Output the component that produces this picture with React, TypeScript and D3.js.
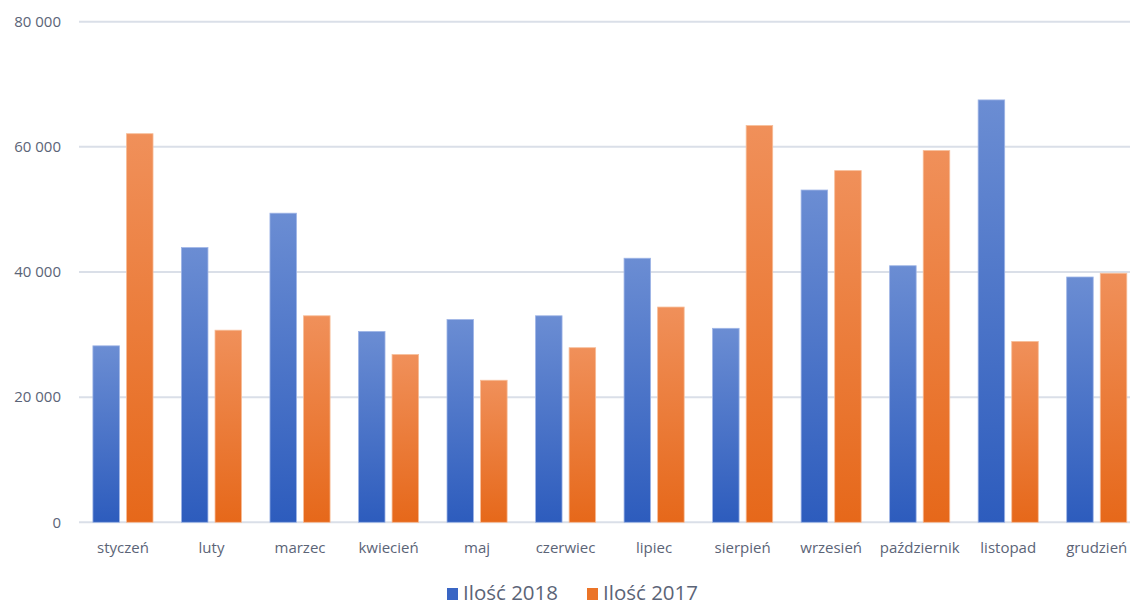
import * as d3 from "d3";
import { useEffect, useRef } from "react";

const months = [
  "styczeń", "luty", "marzec", "kwiecień", "maj", "czerwiec",
  "lipiec", "sierpień", "wrzesień", "październik", "listopad", "grudzień",
];
const values2018 = [28200, 43900, 49400, 30500, 32400, 33000, 42200, 31000, 53100, 41000, 67500, 39200];
const values2017 = [62100, 30700, 33000, 26800, 22700, 27900, 34400, 63400, 56200, 59400, 28900, 39800];
const seriesNames = ["Ilość 2018", "Ilość 2017"];
const yTicks = [0, 20000, 40000, 60000, 80000];

const W = 1130;
const H = 606;
const FONT = "'Open Sans', 'Noto Sans', sans-serif";
const TEXT = "#5b6477";

export default function App() {
  const ref = useRef<SVGSVGElement | null>(null);

  useEffect(() => {
    if (!ref.current) return;
    const svg = d3.select(ref.current);
    svg.selectAll("*").remove();

    const defs = svg.append("defs");
    const grads = [
      { id: "gBlue", top: "#6b8dd3", bottom: "#2d5cbd" },
      { id: "gOrange", top: "#f0905a", bottom: "#e6681a" },
    ];
    grads.forEach((g) => {
      const lg = defs.append("linearGradient")
        .attr("id", g.id)
        .attr("x1", 0).attr("y1", 0).attr("x2", 0).attr("y2", 1);
      lg.append("stop").attr("offset", "0%").attr("stop-color", g.top);
      lg.append("stop").attr("offset", "100%").attr("stop-color", g.bottom);
    });

    // plot runs past the right edge, like the cropped original
    const x = d3.scaleBand().domain(months).range([78.7, 1141]);
    const y = d3.scaleLinear().domain([0, 80000]).range([522.3, 21.7]);
    const inner = d3.scaleBand().domain(["a", "b"]).range([14.2, x.bandwidth() - 14.2]).paddingInner(0.21);

    // gridlines
    svg.append("g")
      .selectAll("line")
      .data(yTicks)
      .join("line")
      .attr("x1", 79)
      .attr("x2", W)
      .attr("y1", (d) => y(d))
      .attr("y2", (d) => y(d))
      .attr("stroke", "#dadfe8")
      .attr("stroke-width", 2);

    // y labels
    const fmt = (v: number) => d3.format(",")(v).replace(/,/g, " ");
    svg.append("g")
      .selectAll("text")
      .data(yTicks)
      .join("text")
      .attr("x", 61)
      .attr("y", (d) => y(d))
      .attr("dy", "0.35em")
      .attr("text-anchor", "end")
      .style("font-family", FONT)
      .style("font-size", "15px")
      .style("fill", TEXT)
      .text(fmt);

    const series = [
      { key: "a", data: values2018, fill: "url(#gBlue)", stroke: "#9fb5e6" },
      { key: "b", data: values2017, fill: "url(#gOrange)", stroke: "#f7bd98" },
    ];
    series.forEach((s) => {
      svg.append("g")
        .selectAll("rect")
        .data(s.data)
        .join("rect")
        .attr("x", (_d, i) => x(months[i])! + inner(s.key)!)
        .attr("y", (d) => y(d))
        .attr("width", inner.bandwidth())
        .attr("height", (d) => y(0) - y(d))
        .attr("fill", s.fill)
        .attr("stroke", s.stroke)
        .attr("stroke-width", 0.8);
    });

    // x labels
    svg.append("g")
      .selectAll("text")
      .data(months)
      .join("text")
      .attr("x", (d) => x(d)! + x.bandwidth() / 2)
      .attr("y", 548)
      .attr("dy", "0.35em")
      .attr("text-anchor", "middle")
      .style("font-family", FONT)
      .style("font-size", "15px")
      .style("fill", TEXT)
      .text((d) => d);

    // legend
    const legend = svg.append("g");
    const lx = [447, 587];
    const lcol = ["#3a66c4", "#eb7428"];
    seriesNames.forEach((name, i) => {
      legend.append("rect")
        .attr("x", lx[i])
        .attr("y", 588)
        .attr("width", 11)
        .attr("height", 12)
        .attr("fill", lcol[i]);
      legend.append("text")
        .attr("x", lx[i] + 16)
        .attr("y", 593)
        .attr("dy", "0.35em")
        .style("font-family", FONT)
        .style("font-size", "20.5px")
        .style("fill", TEXT)
        .text(name);
    });
  }, []);

  return (
    <svg
      ref={ref}
      width={W}
      height={H}
      style={{ position: "absolute", left: 0, top: 0, background: "#fff", display: "block" }}
    />
  );
}
